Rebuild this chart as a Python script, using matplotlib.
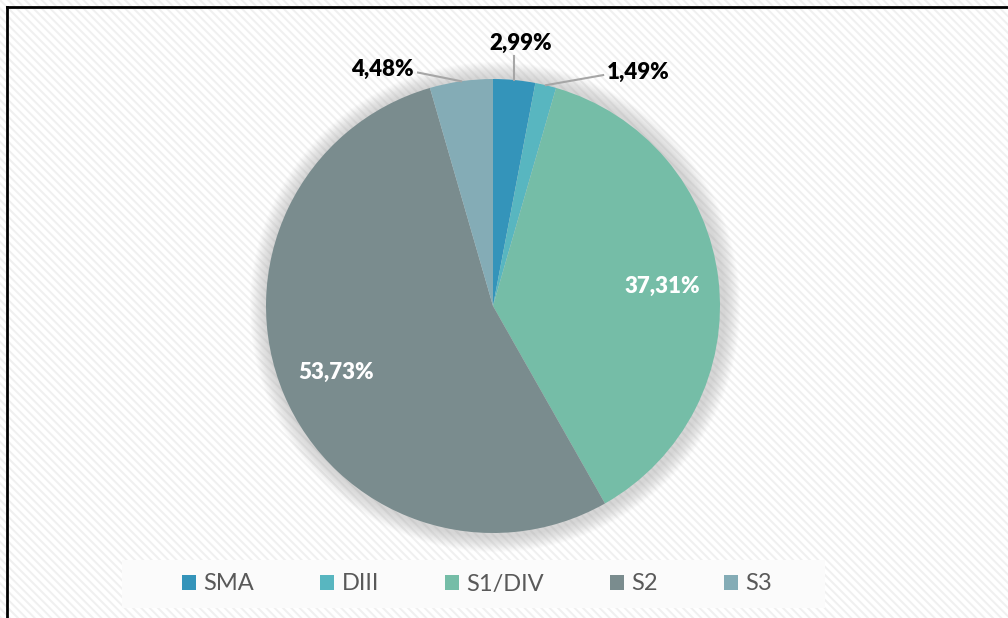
import numpy as np
from matplotlib import pyplot as plt
from matplotlib.patches import Circle, Rectangle
from matplotlib.lines import Line2D

# share of cases per group (%)
groups = ['SMA', 'DIII', 'S1/DIV', 'S2', 'S3']
shares = [2.99, 1.49, 37.31, 53.73, 4.48]
colors = ['#3494BA', '#58B6C0', '#75BDA7', '#7A8C8E', '#84ACB6']
inside = [False, False, True, True, False]

plt.rcParams['font.family'] = ['Lato', 'DejaVu Sans']
plt.rcParams['hatch.linewidth'] = 1.4
plt.rcParams['hatch.color'] = '#F0F0F0'

W, H = 1008, 618
fig = plt.figure(figsize=(W / 100, H / 100), dpi=100)
fig.patches.append(Rectangle((0, 0), 1, 1, transform=fig.transFigure,
                             facecolor='white', edgecolor='#F0F0F0',
                             hatch='\\\\\\\\', lw=0, zorder=-10))
ax = fig.add_axes([0, 0, 1, 1])
ax.set_aspect('equal')
ax.patch.set_alpha(0)

cx, cy, R = 493, H - 306, 227

# soft glow behind the pie
for k in range(16):
    ax.add_patch(Circle((cx + 2, cy - 1), R + 18 - k, color='#8F8F8F',
                        alpha=0.022, lw=0, zorder=1))

wedges, _ = ax.pie(shares, colors=colors, startangle=90, counterclock=False,
                   center=(cx, cy), radius=R, frame=True,
                   wedgeprops=dict(linewidth=0, zorder=2))
ax.set_xlim(0, W)
ax.set_ylim(0, H)
ax.axis('off')

def fmt(v):
    return f'{v:.2f}%'.replace('.', ',')

# outside label layout: (elbow radius factor, elbow angle, text offset dx)
outside = {0: (1.105, None, 0), 1: (1.127, 64.5, 4), 4: (1.08, 107.8, -4)}

for i, (w, v) in enumerate(zip(wedges, shares)):
    mid = np.deg2rad((w.theta1 + w.theta2) / 2)
    if inside[i]:
        r = 0.75 * R
        ax.text(cx + r * np.cos(mid), cy + r * np.sin(mid), fmt(v),
                ha='center', va='center', color='white', fontsize=16,
                fontweight='heavy', zorder=5)
        continue
    fr, ang, dx = outside[i]
    x0, y0 = cx + R * np.cos(mid), cy + R * np.sin(mid)
    a = mid if ang is None else np.deg2rad(ang)
    x1, y1 = cx + fr * R * np.cos(a), cy + fr * R * np.sin(a)
    if ang is None:
        ax.add_line(Line2D([x0, x0], [y0, y1], color='#A6A6A6', lw=1.5, zorder=3))
        ax.text(x0 + 6, y1 + 2, fmt(v), ha='center', va='bottom', color='black',
                fontsize=16, fontweight='heavy', zorder=5)
    else:
        ax.add_line(Line2D([x0, x1], [y0, y1], color='#A6A6A6', lw=1.5, zorder=3))
        ha = 'left' if dx > 0 else 'right'
        ax.text(x1 + dx, y1 + 3, fmt(v), ha=ha, va='center', color='black',
                fontsize=16, fontweight='heavy', zorder=5)

# legend background + legend
ax.add_patch(Rectangle((122, H - 608), 703, 48, facecolor='#FBFBFB',
                       edgecolor='none', zorder=3))
leg = ax.legend(wedges, groups, loc='center', bbox_to_anchor=(477, H - 584),
                bbox_transform=ax.transData, ncol=5, frameon=False,
                fontsize=17, handlelength=0.6, handleheight=0.6,
                handletextpad=0.3, columnspacing=2.8)
for t in leg.get_texts():
    t.set_color('#595959')
leg.set_zorder(6)

# outer frame (cropped on the right and bottom)
fig.add_artist(Line2D([7 / W, 7 / W], [0, 1 - 7 / H], color='black', lw=2,
                      transform=fig.transFigure))
fig.add_artist(Line2D([7 / W, 1], [1 - 7 / H, 1 - 7 / H], color='black', lw=2,
                      transform=fig.transFigure))

fig.savefig('out.png', dpi=100)
